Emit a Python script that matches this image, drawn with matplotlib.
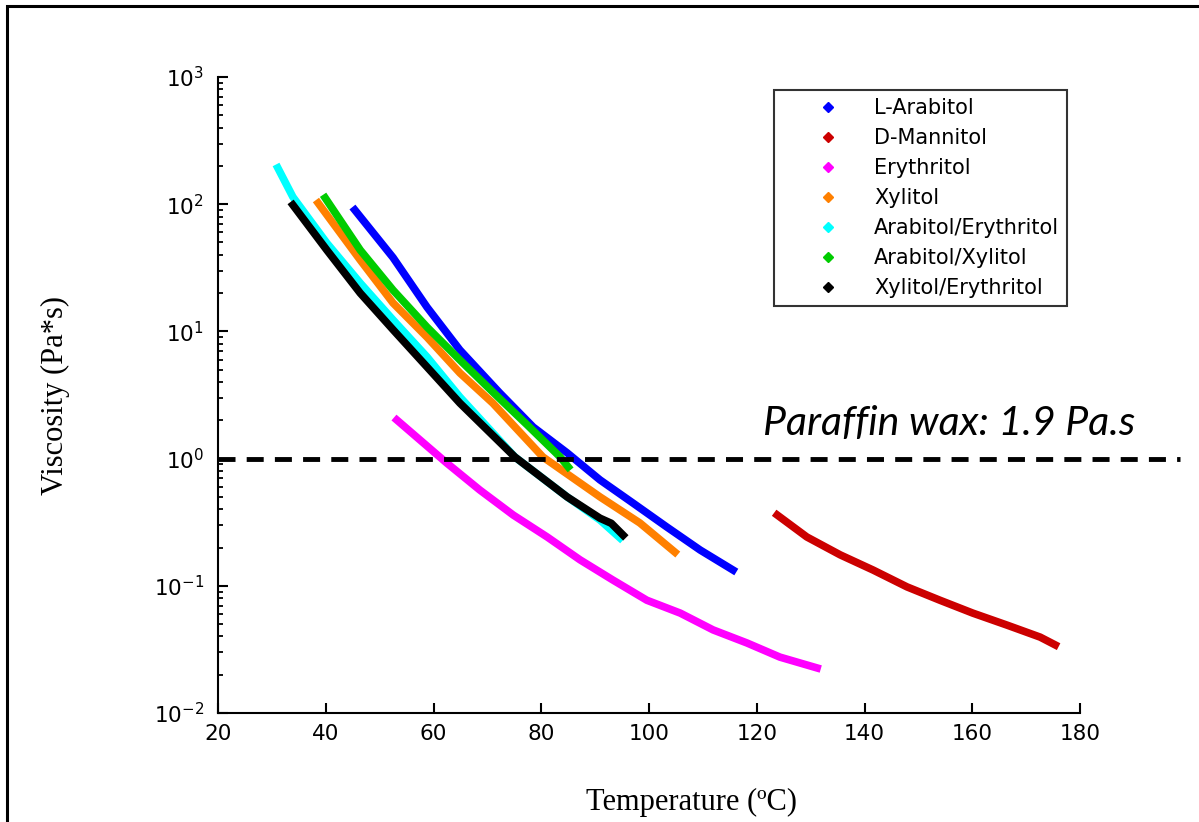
import matplotlib
matplotlib.use("Agg")
import matplotlib.pyplot as plt
from matplotlib.lines import Line2D
from matplotlib.patches import Rectangle
from matplotlib.ticker import LogLocator

plt.rcParams['axes.unicode_minus'] = False

# viscosity curves (T in degC, viscosity in Pa*s)
arab_T = [45.4, 52.5, 58.8, 64.9, 72.3, 78.5, 84.8, 90.9, 97.0, 103.3, 109.5, 115.6]
arab_v = [90, 38.0, 15.5, 7.14, 3.28, 1.77, 1.11, 0.68, 0.448, 0.29, 0.191, 0.133]

mann_T = [123.8, 129.3, 135.5, 141.6, 147.9, 154.0, 160.1, 166.5, 172.6, 175.4]
mann_v = [0.36, 0.242, 0.175, 0.133, 0.098, 0.077, 0.061, 0.049, 0.0395, 0.0343]

eryt_T = [53.2, 62.5, 68.6, 74.8, 81.1, 87.2, 93.3, 99.6, 105.8, 111.9, 118.2, 124.3, 131.2]
eryt_v = [2.01, 0.92, 0.566, 0.36, 0.242, 0.160, 0.111, 0.077, 0.061, 0.045, 0.0355, 0.0275, 0.0226]

xyl_T = [38.6, 46.4, 52.5, 58.8, 64.9, 71.0, 80.3, 90.9, 98.3, 104.8]
xyl_v = [102, 36.4, 16.7, 9.0, 4.71, 2.73, 1.03, 0.50, 0.312, 0.184]

arer_T = [31.1, 33.9, 40.2, 46.4, 52.5, 58.8, 64.9, 75.1, 84.8, 90.9, 94.6]
arer_v = [193, 114, 49.5, 24.0, 12.3, 6.3, 3.05, 1.03, 0.50, 0.329, 0.238]

arxy_T = [39.9, 46.4, 52.5, 58.8, 64.9, 71.0, 77.4, 83.5, 85.0]
arxy_v = [112, 43.6, 21.1, 10.8, 5.96, 3.34, 1.84, 1.03, 0.86]

xyer_T = [33.9, 40.2, 46.4, 52.5, 58.8, 64.9, 75.1, 84.8, 90.9, 93.0, 95.2]
xyer_v = [98.6, 43.6, 20.0, 10.3, 5.25, 2.73, 1.03, 0.50, 0.34, 0.31, 0.25]

names = ['L-Arabitol', 'D-Mannitol', 'Erythritol', 'Xylitol',
         'Arabitol/Erythritol', 'Arabitol/Xylitol', 'Xylitol/Erythritol']
colors = ['#0000ff', '#cc0000', '#ff00ff', '#ff8000', '#00ffff', '#00cc00', '#000000']
series = [(arab_T, arab_v), (mann_T, mann_v), (eryt_T, eryt_v), (xyl_T, xyl_v),
          (arer_T, arer_v), (arxy_T, arxy_v), (xyer_T, xyer_v)]

paraffin = 1.0

fig = plt.figure(figsize=(11.99, 8.22), dpi=100)
ax = fig.add_axes([218/1199, 1 - 713/822, 862/1199, 636/822])

for (T, v), c in zip(series, colors):
    ax.plot(T, v, color=c, lw=5.5)

# paraffin reference line, runs past the right edge of the axes
ax.plot([20, 198.5], [paraffin, paraffin], color='k', lw=3.5, dashes=(3.5, 2.3),
        clip_on=False)
ax.text(121.2, 1.52, 'Paraffin wax: 1.9 Pa.s', fontsize=29.5, style='italic',
        family=['Lato', 'DejaVu Sans'], ha='left', va='baseline')

ax.set_yscale('log')
ax.set_xlim(20, 180)
ax.set_ylim(1e-2, 1e3)
ax.set_xticks(range(20, 181, 20))
ax.yaxis.set_minor_locator(LogLocator(base=10, subs=range(2, 10)))
ax.spines['top'].set_visible(False)
ax.spines['right'].set_visible(False)
for s in ['left', 'bottom']:
    ax.spines[s].set_linewidth(1.5)
ax.tick_params(which='major', direction='in', length=7, width=1.5, labelsize=15.5)
ax.tick_params(which='minor', direction='in', length=3.5, width=1.3)
ax.tick_params(axis='x', pad=8)
ax.tick_params(axis='y', pad=10)

ax.set_xlabel('Temperature (ºC)', family='Liberation Serif', fontsize=22)
ax.set_ylabel('Viscosity (Pa*s)', family='Liberation Serif', fontsize=22)
ax.xaxis.set_label_coords(0.549, -0.118)
ax.yaxis.set_label_coords(-0.172, 0.5)

handles = [Line2D([], [], ls='none', marker='D', ms=5, color=c) for c in colors]
leg = ax.legend(handles, names, loc='upper left', bbox_to_anchor=(0.645, 0.98),
                fontsize=15, frameon=True, fancybox=False, handlelength=4.4,
                handletextpad=0.0, borderpad=0.4, labelspacing=0.48,
                borderaxespad=0)
leg.get_frame().set_edgecolor('k')
leg.get_frame().set_linewidth(1.5)

# outer frame of the original figure
fig.add_artist(Rectangle((7/1199, -0.5), 2, 1.5 - 6/822, transform=fig.transFigure,
                         fill=False, edgecolor='k', lw=2.2))

fig.savefig('out.png', dpi=100)
